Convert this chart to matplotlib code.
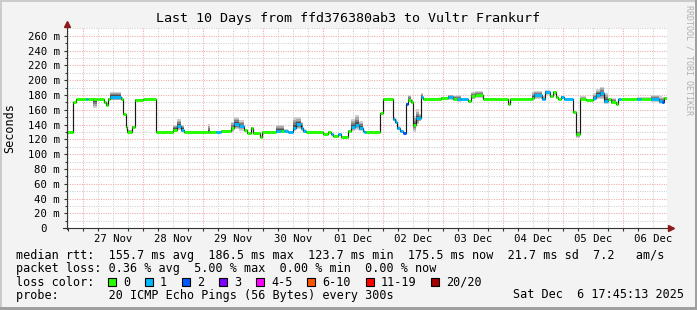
import matplotlib

matplotlib.use("Agg")
import matplotlib.pyplot as plt
import numpy as np
from matplotlib.lines import Line2D
from matplotlib.patches import Rectangle

W, H = 697, 310
MONO = "DejaVu Sans Mono"

# median rtt steps; start of each step in hours since 27 Nov 00:00
seg_start = [
    -6.25, -4.0, -2.7, 1.5, 2.1, 4.1, 5.7, 8.5, 9.4, 10.1,
    11.1, 15.3, 16.0, 17.3, 17.9, 19.7, 20.9, 24.0, 29.5, 36.1,
    37.7, 39.3, 40.5, 50.1, 50.9, 53.3, 55.3, 59.3, 60.5, 62.5,
    64.5, 65.7, 67.3, 68.1, 71.1, 71.7, 77.3, 79.3, 80.5, 82.1,
    84.1, 85.3, 87.3, 88.1, 89.3, 96.1, 98.1, 99.3, 100.1, 102.1,
    103.3, 106.1, 107.3, 108.9, 110.5, 112.1, 112.5, 113.3, 118.9, 120.1,
    124.1, 124.9, 125.7, 126.9, 128.3, 129.3, 130.1, 131.3, 132.0, 133.3,
    134.5, 135.3, 136.0, 143.3, 146.1, 148.1, 149.7, 151.3, 154.1, 155.3,
    156.9, 160.1, 165.3, 170.1, 170.9, 179.7, 180.5, 183.9, 184.9, 187.1,
    188.1, 189.3, 190.1, 191.3, 192.5, 196.1, 197.3, 198.9, 201.3, 204.1,
    205.3, 206.9, 208.5, 210.1, 211.3, 213.3, 214.1, 215.3, 221.7, 223.3,
    227.3, 230.5, 231.7, 232.5,
]
window_end = 233.75

median_ms = [
    130, 170, 174, 174, 174, 174, 174, 170, 167, 174,
    177.6, 175, 154, 137, 130, 137, 173, 174, 130, 133,
    138.5, 133, 130, 130, 130, 130, 131, 135, 140.6, 138,
    132.5, 128, 135.8, 128.5, 123.7, 130, 132, 132, 131, 130,
    136, 140.4, 136, 131.5, 130, 127, 130, 127, 124.6, 127,
    123.7, 131, 137, 140, 136, 131.5, 130, 130, 155, 174.5,
    147.5, 144, 135, 131.8, 129, 167.8, 172.6, 171, 139.5, 148.5,
    148.5, 177.6, 175, 176.3, 177.6, 175, 174.5, 174, 171.8, 178,
    180, 175, 174, 167.8, 174, 176, 180, 175, 184.4, 178,
    184, 177, 174, 177, 174.5, 157.4, 126.9, 174, 172.6, 176,
    180, 182.2, 172, 174, 171, 168, 174, 174, 175, 174,
    175, 172, 171, 175.5,
]

# loss bucket index per step (0 = no loss, 1 = 1/20, 2 = 2/20 ...)
loss_bucket = [
    0, 0, 0, 1, 0, 0, 0, 0, 0, 0,
    1, 0, 0, 0, 0, 0, 0, 0, 0, 0,
    1, 1, 0, 0, 0, 1, 0, 0, 1, 1,
    0, 0, 0, 0, 0, 0, 1, 0, 1, 1,
    1, 1, 1, 1, 0, 0, 0, 1, 0, 1,
    0, 0, 1, 1, 1, 1, 1, 0, 0, 0,
    1, 1, 1, 1, 2, 2, 0, 0, 0, 1,
    1, 1, 0, 0, 1, 0, 1, 1, 0, 0,
    0, 0, 0, 0, 0, 0, 1, 1, 1, 0,
    0, 0, 0, 1, 1, 0, 0, 0, 0, 1,
    1, 1, 1, 0, 0, 0, 1, 0, 1, 0,
    1, 1, 2, 0,
]

# smoke spread above / below the median (ms)
smoke_up = [
    1, 1, 1, 2, 1, 2, 1, 2, 2, 2,
    7, 2, 1, 1, 3, 1, 2, 1, 1, 7,
    9, 7, 1, 11, 1, 1, 2, 9, 10, 8,
    2, 1, 1, 1, 1, 1, 8, 8, 3, 1,
    14, 10, 8, 2, 1, 1, 1, 2, 2, 1,
    1, 2, 11, 13, 9, 3, 1, 1, 1, 1,
    3, 3, 3, 1, 1, 2, 8, 3, 12, 12,
    6, 5, 1, 1, 3, 4, 6, 2, 2, 6,
    6, 1, 1, 1, 1, 8, 6, 3, 2, 2,
    1, 2, 1, 2, 1, 1, 5, 4, 1, 6,
    8, 9, 11, 1, 5, 2, 1, 1, 2, 3,
    5, 6, 6, 2,
]
smoke_dn = [
    1, 1, 1, 1, 1, 12, 1, 2, 2, 1,
    5, 1, 1, 1, 2, 1, 1, 1, 1, 3,
    6, 3, 1, 1, 1, 1, 1, 5, 7, 6,
    2, 1, 1, 1, 1, 1, 3, 3, 1, 1,
    5, 7, 5, 1, 1, 1, 1, 1, 1, 1,
    1, 1, 6, 7, 5, 1, 1, 1, 1, 1,
    2, 2, 2, 1, 1, 1, 2, 2, 9, 8,
    4, 2, 1, 1, 4, 2, 4, 2, 1, 4,
    4, 1, 1, 1, 1, 4, 6, 2, 5, 2,
    4, 2, 1, 2, 1, 1, 5, 1, 1, 4,
    6, 8, 4, 1, 3, 2, 1, 1, 1, 1,
    5, 4, 3, 1,
]

day_labels = ["27 Nov", "28 Nov", "29 Nov", "30 Nov", "01 Dec",
              "02 Dec", "03 Dec", "04 Dec", "05 Dec", "06 Dec"]
y_ticks = list(range(0, 261, 20))

loss_labels = ["0", "1", "2", "3", "4-5", "6-10", "11-19", "20/20"]
loss_colors = ["#26ff00", "#00b8ff", "#0059ff", "#7e00ff",
               "#ff00ff", "#ff5500", "#ff0000", "#a10000"]

title = "Last 10 Days from ffd376380ab3 to Vultr Frankurf"
rtt_stats = {"avg": 155.7, "max": 186.5, "min": 123.7, "now": 175.5}
rtt_sd, rtt_am = 21.7, 7.2
loss_stats = {"avg": 0.36, "max": 5.00, "min": 0.00, "now": 0.00}
probe_text = "20 ICMP Echo Pings (56 Bytes) every 300s"
stamp = "Sat Dec  6 17:45:13 2025"


def fx(x):
    return x / W


def fy(y):
    return 1 - y / H


fig = plt.figure(figsize=(W / 100, H / 100), dpi=100)
fig.patch.set_facecolor("#f3f3f3")

# frame shading
for (x0, y0, w, h, c) in [(0, 0, W, 2, "#cbcbcb"), (0, 0, 2, H, "#cbcbcb"),
                          (0, H - 3, W, 3, "#9f9f9f"), (W - 2, 0, 2, H, "#9f9f9f")]:
    fig.patches.append(Rectangle((fx(x0), fy(y0 + h)), w / W, h / H,
                                 transform=fig.transFigure, color=c, lw=0))

ax = fig.add_axes([fx(67), fy(228.3), 600 / W, 200 / H])
ax.set_facecolor("white")
ax.set_xlim(-6.25, window_end)
ax.set_ylim(0, 270)

# grid
for h in np.arange(-6, 234, 6):
    major = h % 24 == 0
    ax.axvline(h, color="#f0a8a8" if major else "#cfcfcf", lw=0.75,
               ls=(0, (1, 1.3)), zorder=1)
for v in range(10, 271, 10):
    major = v % 20 == 0
    ax.axhline(v, color="#f0a8a8" if major else "#cfcfcf", lw=0.75,
               ls=(0, (1, 1.3)), zorder=1)

edges = np.array(seg_start + [window_end])
med = np.array(median_ms)
up = np.array(smoke_up)
dn = np.array(smoke_dn)
med_e = np.append(med, med[-1])
up_e = np.append(up, up[-1])
dn_e = np.append(dn, dn[-1])

# smoke, light outside to dark near the median
for frac, col in [(1.0, "#cfcfcf"), (0.75, "#a8a8a8"), (0.5, "#7e7e7e"), (0.25, "#505050")]:
    ax.fill_between(edges, med_e - dn_e * frac, med_e + up_e * frac,
                    step="post", color=col, lw=0, zorder=2)

ax.stairs(med, edges, baseline=None, color="#1a1a1a", lw=0.85, zorder=3)
lc = ax.hlines(med, edges[:-1], edges[1:],
               colors=[loss_colors[b] for b in loss_bucket], lw=2.1, zorder=4)
lc.set_capstyle("butt")

# axes
for s in ["top", "right", "left", "bottom"]:
    ax.spines[s].set_visible(False)
ax.add_line(Line2D([0, 0], [-0.005, 1.02], transform=ax.transAxes, color="#333333",
                   lw=0.8, clip_on=False, zorder=5))
ax.add_line(Line2D([-0.007, 1.005], [0, 0], transform=ax.transAxes, color="#333333",
                   lw=0.8, clip_on=False, zorder=5))
ax.plot([0], [1.022], marker="^", ms=4.5, color="#8b1a1a", transform=ax.transAxes,
        clip_on=False, zorder=6)
ax.plot([1.007], [0], marker=">", ms=4.5, color="#8b1a1a", transform=ax.transAxes,
        clip_on=False, zorder=6)

ax.set_yticks(y_ticks)
ax.set_yticklabels(["0\u00a0\u00a0" if v == 0 else f"{v} m" for v in y_ticks],
                   family=MONO, fontsize=7.7)
ax.set_yticks(range(10, 270, 20), minor=True)
ax.tick_params(axis="y", which="major", length=2, width=0.8, color="#333333", pad=3.3)
ax.tick_params(axis="y", which="minor", length=1.2, width=0.8, color="#333333")

ax.set_xticks([12 + 24 * i for i in range(len(day_labels))])
ax.set_xticklabels(day_labels, family=MONO, fontsize=7.7)
ax.set_xticks(np.arange(-6, 234, 6), minor=True)
ax.tick_params(axis="x", which="major", length=0, pad=4)
ax.tick_params(axis="x", which="minor", length=2, width=0.8, color="#333333")

# texts
fig.text(0.5, fy(22), title, family=MONO, fontsize=9.6, ha="center", va="baseline")
fig.text(fx(10), fy(128), "Seconds", family=MONO, fontsize=8.5, rotation=90,
         ha="center", va="center")
fig.text(fx(689), fy(60), "RRDTOOL / TOBI OETIKER", family=MONO, fontsize=6,
         rotation=270, ha="center", va="center", color="#b0b0b0")

leg = dict(family=MONO, fontsize=8.5, ha="left", va="baseline")
row1 = ("median rtt:  "
        f"{rtt_stats['avg']:.1f} ms avg  {rtt_stats['max']:.1f} ms max  "
        f"{rtt_stats['min']:.1f} ms min  {rtt_stats['now']:.1f} ms now  "
        f"{rtt_sd:.1f} ms sd  {rtt_am:.1f}   am/s")
row2 = ("packet loss: "
        f"{loss_stats['avg']:.2f} % avg  {loss_stats['max']:.2f} % max  "
        f"{loss_stats['min']:.2f} % min  {loss_stats['now']:.2f} % now")
fig.text(fx(16), fy(258.5), row1, **leg)
fig.text(fx(16), fy(272), row2, **leg)
fig.text(fx(16), fy(285.5), "loss color:", **leg)
fig.text(fx(16), fy(298.5), "probe:       " + probe_text, **leg)
fig.text(fx(513), fy(298.5), stamp, **leg)

bx = 108
for lab, col in zip(loss_labels, loss_colors):
    fig.patches.append(Rectangle((fx(bx), fy(286)), 8 / W, 8 / H, transform=fig.transFigure,
                                 facecolor=col, edgecolor="black", lw=0.8))
    fig.text(fx(bx + 15), fy(285.5), lab, **leg)
    bx += 15 + len(lab) * 7.06 + 15

fig.savefig("out.png", dpi=100, facecolor=fig.get_facecolor())
